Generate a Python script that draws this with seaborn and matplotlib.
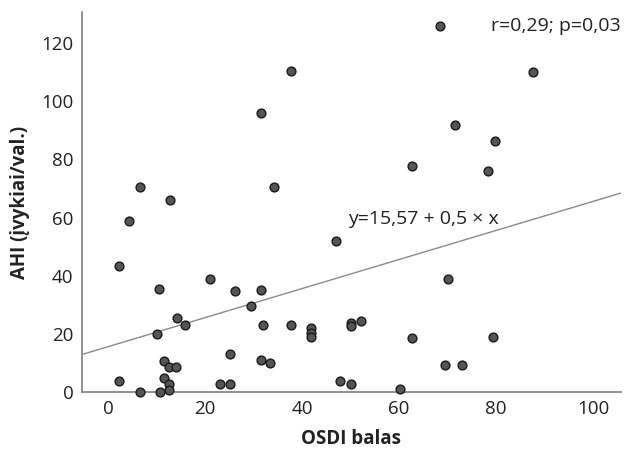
import matplotlib
matplotlib.use("Agg")
import matplotlib.pyplot as plt
import seaborn as sns
import numpy as np
import pandas as pd

osdi = [37.7, 31.5, 6.5, 34.2, 12.7, 4.4,
        68.5, 87.7, 71.5, 79.7, 62.7, 78.4,
        47.1, 70.2, 41.9, 41.9, 41.9, 50.2, 50.2, 52.2, 62.7, 79.4,
        69.5, 73.0, 47.8, 50.2, 60.2,
        2.3, 10.6, 21.0, 26.1, 31.5, 29.4, 14.2, 15.8, 32.0, 37.7, 10.2,
        25.2, 11.5, 12.6, 14.0, 31.5, 33.5, 11.5, 2.3, 12.6, 12.6, 23.1,
        25.2, 6.5, 10.7]
ahi = [110.6, 96.1, 70.5, 70.5, 66.2, 58.9,
       126.0, 110.1, 92.0, 86.4, 77.8, 76.1,
       52.1, 38.7, 21.9, 20.4, 19.0, 23.6, 22.8, 24.3, 18.4, 19.0,
       9.3, 9.4, 3.8, 2.9, 1.1,
       43.5, 35.3, 38.7, 34.9, 35.2, 29.6, 25.4, 23.1, 23.0, 23.1, 20.0,
       12.9, 10.6, 8.6, 8.6, 10.9, 9.9, 4.8, 3.8, 2.6, 0.8, 2.8,
       2.8, 0.0, 0.0]

intercept = 15.57
slope = 0.5
x_ticks = [0, 20, 40, 60, 80, 100]
y_ticks = [0, 20, 40, 60, 80, 100, 120]

sns.set_theme(style="white")
plt.rcParams['font.family'] = ['Open Sans', 'DejaVu Sans']

df = pd.DataFrame({"OSDI": osdi, "AHI": ahi})

fig = plt.figure(figsize=(6.34, 4.5), dpi=100)
ax = fig.add_axes([0.129, 0.129, 0.850, 0.844])

xlim = (-5.4, 105.7)
ylim = (0, 130.7)
xl = np.array(xlim)
ax.plot(xl, intercept + slope * xl, color="#8a8a8a", lw=1.0, zorder=1)

sns.scatterplot(data=df, x="OSDI", y="AHI", ax=ax, s=40, color="#555555",
                edgecolor="#1a1a1a", linewidth=1.0, zorder=3, clip_on=False)

ax.set_xlim(*xlim)
ax.set_ylim(*ylim)
ax.set_xticks(x_ticks)
ax.set_yticks(y_ticks)
ax.tick_params(axis="both", length=0, labelsize=13.5, colors="#222222", pad=6)

for side in ["top", "right"]:
    ax.spines[side].set_visible(False)
for side in ["left", "bottom"]:
    ax.spines[side].set_color("#888888")
    ax.spines[side].set_linewidth(1.3)

ax.set_xlabel("OSDI balas", fontsize=13.5, fontweight="bold", color="#222222", labelpad=8)
ax.set_ylabel("AHI (įvykiai/val.)", fontsize=13.5, fontweight="bold", color="#222222", labelpad=8)

ax.text(1.0, 126, "r=0,29; p=0,03", transform=ax.get_yaxis_transform(),
        ha="right", va="center", fontsize=14, color="#222222")
ax.text(49.5, 59.6, "y=15,57 + 0,5 × x", ha="left", va="center",
        fontsize=14, color="#222222")

fig.savefig("out.png", dpi=100)
